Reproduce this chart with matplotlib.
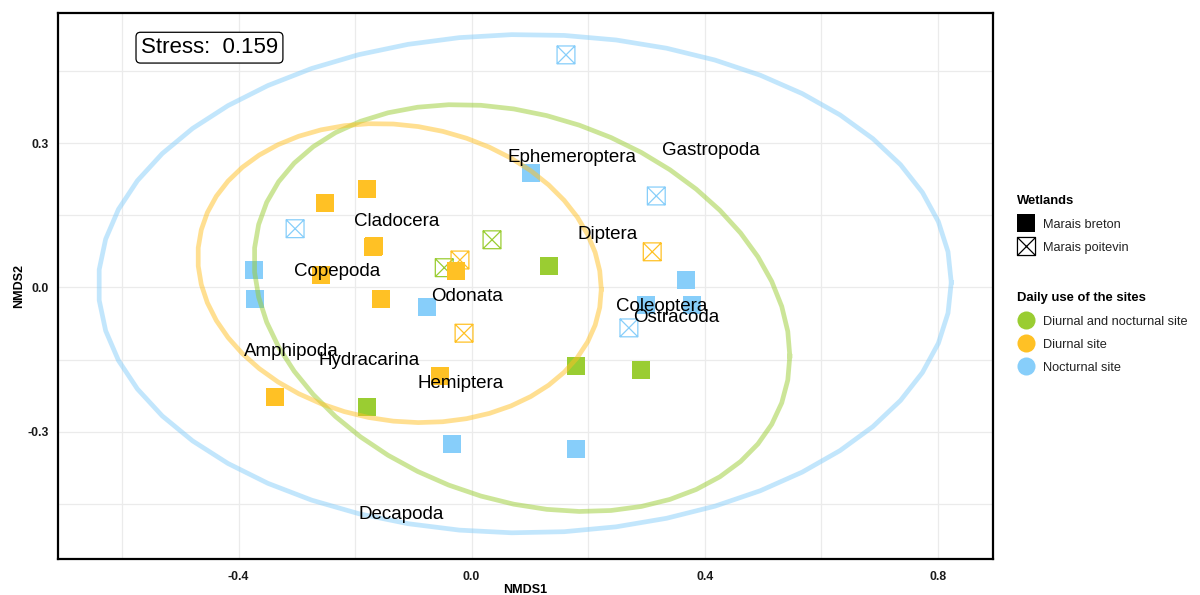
import numpy as np
import matplotlib
matplotlib.use("Agg")
import matplotlib.pyplot as plt
from matplotlib.path import Path
from matplotlib.lines import Line2D

plt.rcParams["font.family"] = ["Liberation Sans", "DejaVu Sans"]

# site scores from the NMDS
site_x = [-0.179, -0.252, -0.169, -0.167, -0.258, -0.155, -0.027, -0.337, -0.054,
          -0.373, -0.372, -0.076, 0.102, 0.368, 0.300, 0.379, -0.033, 0.179,
          0.133, -0.179, 0.179, 0.291,
          -0.303, 0.317, 0.270, 0.162,
          -0.020, -0.013, 0.310,
          -0.047, 0.035]
site_y = [0.205, 0.176, 0.084, 0.086, 0.026, -0.024, 0.034, -0.228, -0.184,
          0.036, -0.024, -0.040, 0.238, 0.016, -0.036, -0.036, -0.325, -0.336,
          0.045, -0.248, -0.163, -0.171,
          0.122, 0.190, -0.084, 0.483,
          0.057, -0.095, 0.074,
          0.041, 0.099]
site_use = (["Diurnal site"] * 9 + ["Nocturnal site"] * 9
            + ["Diurnal and nocturnal site"] * 4 + ["Nocturnal site"] * 4
            + ["Diurnal site"] * 3 + ["Diurnal and nocturnal site"] * 2)
site_wetland = ["Marais breton"] * 22 + ["Marais poitevin"] * 9

# species scores
species = ["Ephemeroptera", "Gastropoda", "Cladocera", "Diptera", "Copepoda",
           "Odonata", "Coleoptera", "Ostracoda", "Amphipoda", "Hydracarina",
           "Hemiptera", "Decapoda"]
species_x = [0.172, 0.411, -0.129, 0.234, -0.231, -0.008, 0.327, 0.351,
             -0.309, -0.176, -0.019, -0.121]
species_y = [0.269, 0.284, 0.138, 0.109, 0.033, -0.018, -0.040, -0.062,
             -0.133, -0.152, -0.199, -0.471]

stress = 0.159

use_levels = ["Diurnal and nocturnal site", "Diurnal site", "Nocturnal site"]
use_colors = ["#9ACD32", "#FFC125", "#87CEFA"]
wetland_levels = ["Marais breton", "Marais poitevin"]

# square with a cross (R pch 7)
box_x = Path([(-1, -1), (1, -1), (1, 1), (-1, 1), (-1, -1),
              (-1, -1), (1, 1), (-1, 1), (1, -1)],
             [Path.MOVETO, Path.LINETO, Path.LINETO, Path.LINETO, Path.CLOSEPOLY,
              Path.MOVETO, Path.LINETO, Path.MOVETO, Path.LINETO])


def cov_trob(xy, nu=5, maxit=25, tol=0.01):
    """robust t covariance, same as MASS::cov.trob"""
    n, p = xy.shape
    wt = np.ones(n)
    loc = xy.mean(axis=0)
    w = np.sqrt(wt)
    for _ in range(maxit):
        w0 = w
        X = xy - loc
        _, d, vt = np.linalg.svd(np.sqrt(w / w.sum())[:, None] * X, full_matrices=False)
        wX = X @ vt.T @ np.diag(1 / d)
        Q = (wX ** 2).sum(axis=1)
        w = wt * (nu + p) / (nu + Q)
        loc = (w[:, None] * xy).sum(axis=0) / w.sum()
        if np.all(np.abs(w - w0) < tol):
            break
    sx = np.sqrt(w)[:, None] * X
    return loc, sx.T @ sx / wt.sum()


def stat_ellipse(xy, level=0.95, segments=51):
    loc, cov = cov_trob(xy)
    dfd = len(xy) - 1
    qf = dfd / 2 * ((1 - level) ** (-2 / dfd) - 1)  # F(2, dfd) quantile
    radius = np.sqrt(2 * qf)
    t = np.linspace(0, 2 * np.pi, segments + 1)
    circle = np.column_stack([np.cos(t), np.sin(t)])
    U = np.linalg.cholesky(cov).T
    return loc + radius * circle @ U


fig = plt.figure(figsize=(12, 5.95), dpi=100)
ax = fig.add_axes([58 / 1200, 1 - 559 / 595, 935 / 1200, 546 / 595])

sx = np.array(site_x)
sy = np.array(site_y)
use = np.array(site_use)
wet = np.array(site_wetland)

for lev, col in zip(use_levels, use_colors):
    m = (use == lev) & (wet == "Marais breton")
    ax.scatter(sx[m], sy[m], marker="s", s=165, color=col, linewidths=0, zorder=3)
    m = (use == lev) & (wet == "Marais poitevin")
    ax.scatter(sx[m], sy[m], marker=box_x, s=165, facecolors="none",
               edgecolors=col, linewidths=0.9, zorder=3)

for lev, col in zip(use_levels, use_colors):
    m = use == lev
    el = stat_ellipse(np.column_stack([sx[m], sy[m]]))
    ax.plot(el[:, 0], el[:, 1], color=col, alpha=0.5, lw=3.4, zorder=4)

for name, x, y in zip(species, species_x, species_y):
    ax.text(x, y, name, fontsize=13.5, ha="center", va="center", color="black", zorder=5)

ax.text(-0.450, 0.498, f"Stress:  {stress}", fontsize=16, ha="center", va="center", zorder=6,
        bbox=dict(boxstyle="round,pad=0.22,rounding_size=0.2", fc="white", ec="black", lw=0.9))

ax.set_xlim(-0.710, 0.895)
ax.set_ylim(-0.564, 0.570)
ax.set_xticks([-0.4, 0.0, 0.4, 0.8])
ax.set_xticks([-0.6, -0.2, 0.2, 0.6], minor=True)
ax.set_yticks([-0.3, 0.0, 0.3])
ax.set_yticks([-0.45, -0.15, 0.15, 0.45], minor=True)
ax.set_xticklabels(["-0.4", "0.0", "0.4", "0.8"])
ax.set_yticklabels(["-0.3", "0.0", "0.3"])
ax.tick_params(which="both", length=0, labelsize=8.8, labelcolor="#1a1a1a")
ax.tick_params(axis="x", pad=8.5)
ax.tick_params(axis="y", pad=6.5)
for lab in ax.get_xticklabels() + ax.get_yticklabels():
    lab.set_fontweight("bold")
ax.grid(which="both", color="#EBEBEB", lw=0.9)
ax.set_axisbelow(True)
for sp in ax.spines.values():
    sp.set_linewidth(1.6)
    sp.set_color("black")

ax.set_xlabel("NMDS1", fontsize=9, fontweight="bold", labelpad=1)
ax.set_ylabel("NMDS2", fontsize=9, fontweight="bold", labelpad=1.5)

# legends
leg_kw = dict(loc="upper left", frameon=False, fontsize=9.2,
              title_fontproperties={"weight": "bold", "size": 9.4},
              alignment="left", labelspacing=0.85, handlelength=1.4,
              handletextpad=0.7, borderaxespad=0, borderpad=0.2)

h1 = [Line2D([], [], ls="", marker="s", markersize=13, color="black", markeredgewidth=0),
      Line2D([], [], ls="", marker=box_x, markersize=13, markerfacecolor="none",
             markeredgecolor="black", markeredgewidth=0.9)]
leg1 = fig.legend(h1, wetland_levels, title="Wetlands",
                  bbox_to_anchor=(1014 / 1200, 1 - 192 / 595), **leg_kw)

h2 = [Line2D([], [], ls="", marker="o", markersize=13, color=c, markeredgewidth=0)
      for c in use_colors]
leg2 = fig.legend(h2, use_levels, title="Daily use of the sites",
                  bbox_to_anchor=(1014 / 1200, 1 - 289 / 595), **leg_kw)

for leg in (leg1, leg2):
    leg._legend_box.sep += 1.0
    for t in leg.get_texts():
        t.set_color("#222222")

fig.savefig("out.png", dpi=100)
